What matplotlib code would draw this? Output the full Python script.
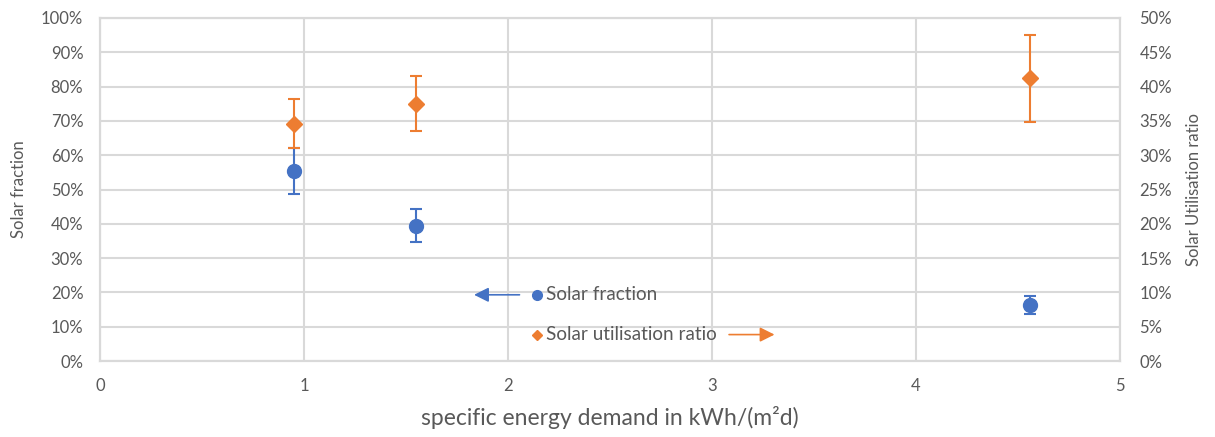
import matplotlib
matplotlib.use("Agg")
import matplotlib.pyplot as plt
from matplotlib.ticker import PercentFormatter, MultipleLocator

plt.rcParams['font.family'] = ['Lato', 'DejaVu Sans']

# specific energy demand, kWh/(m²d)
demand = [0.95, 1.55, 4.56]
# solar fraction (left axis, %) and its error
solar_fraction = [55.3, 39.4, 16.4]
solar_fraction_err = [6.7, 4.8, 2.6]
# solar utilisation ratio (right axis, %) and its error
utilisation = [34.6, 37.5, 41.2]
utilisation_err = [3.6, 4.0, 6.3]

blue = '#4472C4'
orange = '#ED7D31'
grey_txt = '#595959'
grid_c = '#D9D9D9'

fig = plt.figure(figsize=(12.15, 4.37), dpi=100)
ax = fig.add_axes([100/1215, 1-361/437, 1020/1215, 343/437])
ax2 = ax.twinx()

ax.set_xlim(0, 5)
ax.set_ylim(0, 100)
ax2.set_ylim(0, 50)
ax.xaxis.set_major_locator(MultipleLocator(1))
ax.yaxis.set_major_locator(MultipleLocator(10))
ax2.yaxis.set_major_locator(MultipleLocator(5))
ax.yaxis.set_major_formatter(PercentFormatter(decimals=0))
ax2.yaxis.set_major_formatter(PercentFormatter(decimals=0))

ax.grid(True, color=grid_c, linewidth=1.5)
ax.set_axisbelow(True)
for a in (ax, ax2):
    for s in a.spines.values():
        s.set_color(grid_c)
        s.set_linewidth(1.5)
    a.tick_params(length=0, labelsize=12, colors=grey_txt)
ax.tick_params(axis='y', pad=12)
ax2.tick_params(axis='y', pad=14)
ax.tick_params(axis='x', pad=12)

ax.errorbar(demand, solar_fraction, yerr=solar_fraction_err, fmt='o',
            color=blue, markersize=10, elinewidth=1.5, capsize=4.5, capthick=1.5,
            zorder=3)
ax2.errorbar(demand, utilisation, yerr=utilisation_err, fmt='D',
             color=orange, markersize=8, elinewidth=1.5, capsize=4.5, capthick=1.5,
             zorder=3)

ax.set_ylabel('Solar fraction', color=grey_txt, fontsize=12, labelpad=10)
ax2.set_ylabel('Solar Utilisation ratio', color=grey_txt, fontsize=12, labelpad=10)
ax.set_xlabel('specific energy demand in kWh/(m²d)', color=grey_txt, fontsize=16.5, labelpad=9)

# legend entries with direction arrows to their axes
ax.plot([2.14], [19.3], 'o', color=blue, markersize=7, zorder=4)
ax.text(2.185, 19.3, 'Solar fraction', color=grey_txt, fontsize=13.6, va='center')
ax.annotate('', xy=(1.82, 19.3), xytext=(2.07, 19.3),
            arrowprops=dict(arrowstyle='-|>', color=blue, lw=1.2, mutation_scale=22))
ax.plot([2.14], [7.7], 'D', color=orange, markersize=5.5, zorder=4)
ax.text(2.185, 7.7, 'Solar utilisation ratio', color=grey_txt, fontsize=13.6, va='center')
ax.annotate('', xy=(3.32, 7.7), xytext=(3.07, 7.7),
            arrowprops=dict(arrowstyle='-|>', color=orange, lw=1.2, mutation_scale=22))

fig.savefig('out.png', dpi=100)
